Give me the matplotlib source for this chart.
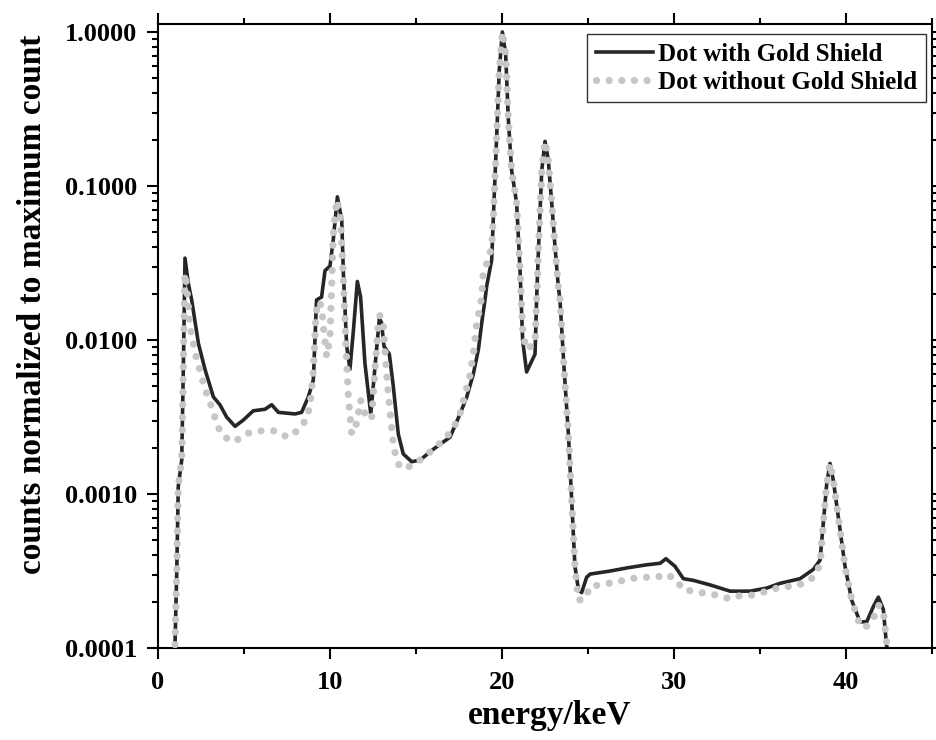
import matplotlib

matplotlib.use("Agg")
import matplotlib.pyplot as plt
from matplotlib.ticker import FixedLocator, LogLocator, MultipleLocator, FormatStrFormatter

# ---------------------------------------------------------------- data
# spectrum with the gold shield (solid line)
energy_gold = [
    0.99, 1.09, 1.18, 1.38, 1.47, 1.53, 1.57, 1.76, 1.96, 2.35, 2.73, 3.22, 3.60,
    3.99, 4.48, 4.96, 5.54, 6.22, 6.61, 7.00, 7.97, 8.35, 8.74, 9.03, 9.22, 9.51,
    9.71, 10.00, 10.19, 10.43, 10.68, 10.78, 10.97, 11.16, 11.36, 11.59, 11.78,
    12.03, 12.37, 12.62, 12.87, 13.00, 13.14, 13.45, 13.68, 13.97, 14.26, 14.75,
    15.23, 16.00, 16.98, 17.56, 17.95, 18.33, 18.63, 18.82, 19.01, 19.11, 19.40,
    19.49, 19.69, 19.84, 20.02, 20.21, 20.37, 20.56, 20.85, 21.05, 21.20, 21.43,
    21.92, 22.01, 22.11, 22.31, 22.50, 22.69, 22.89, 23.08, 23.27, 23.37, 23.60,
    23.86, 24.05, 24.24, 24.44, 24.63, 24.92, 25.12, 26.28, 27.25, 28.41, 29.19,
    29.53, 30.06, 30.54, 31.12, 32.09, 33.26, 34.42, 35.39, 36.16, 37.33, 38.10,
    38.49, 38.68, 38.88, 39.07, 39.26, 39.55, 39.94, 40.33, 40.81, 41.20, 41.59,
    41.88, 42.17, 42.36, 42.42,
]
counts_gold = [
    1.05e-4, 3.1e-4, 1.12e-3, 1.66e-3, 6.2e-3, 0.0166, 0.034, 0.0234, 0.0182,
    0.0095, 0.00646, 0.00427, 0.0038, 0.00316, 0.00275, 0.00302, 0.00347, 0.00355,
    0.0038, 0.00339, 0.00331, 0.00339, 0.00427, 0.0055, 0.0182, 0.019, 0.0282,
    0.0302, 0.0447, 0.085, 0.0603, 0.0269, 0.0091, 0.00646, 0.0115, 0.024, 0.019,
    0.00708, 0.00331, 0.00676, 0.0138, 0.0129, 0.0091, 0.0081, 0.0050, 0.00245,
    0.00182, 0.00162, 0.00166, 0.00195, 0.00234, 0.00331, 0.00427, 0.0060, 0.0087,
    0.0129, 0.0182, 0.0224, 0.0331, 0.0603, 0.209, 0.562, 1.0, 0.724, 0.269, 0.126,
    0.0776, 0.0282, 0.0100, 0.0062, 0.0081, 0.0182, 0.0363, 0.126, 0.195, 0.148,
    0.0776, 0.0407, 0.0224, 0.0182, 0.00676, 0.00245, 9.1e-4, 3.4e-4, 2.4e-4,
    2.29e-4, 2.88e-4, 3.02e-4, 3.16e-4, 3.31e-4, 3.47e-4, 3.55e-4, 3.8e-4, 3.39e-4,
    2.82e-4, 2.75e-4, 2.57e-4, 2.34e-4, 2.34e-4, 2.45e-4, 2.63e-4, 2.82e-4, 3.24e-4,
    3.72e-4, 6.5e-4, 1.17e-3, 1.58e-3, 1.23e-3, 7.1e-4, 3.4e-4, 2.04e-4, 1.48e-4,
    1.48e-4, 1.86e-4, 2.14e-4, 1.78e-4, 1.02e-4, 1.0e-4,
]

# spectrum without the gold shield (grey dots)
energy_bare = [
    0.99, 1.09, 1.18, 1.38, 1.47, 1.53, 1.57, 1.67, 1.86, 2.15, 2.35, 2.73, 3.02,
    3.47, 3.84, 4.48, 5.06, 5.74, 6.38, 6.84, 7.52, 8.10, 8.60, 8.84, 9.03, 9.19,
    9.32, 9.51, 9.65, 9.81, 10.00, 10.10, 10.19, 10.39, 10.60, 10.78, 10.93, 11.07,
    11.26, 11.55, 11.78, 11.94, 12.13, 12.42, 12.62, 12.81, 12.91, 13.10, 13.26,
    13.39, 13.53, 13.68, 13.84, 14.07, 14.65, 15.23, 16.00, 16.78, 17.27, 17.56,
    17.95, 18.14, 18.37, 18.53, 18.68, 18.82, 18.91, 19.20, 19.40, 19.49, 19.69,
    19.84, 20.02, 20.21, 20.37, 20.56, 20.85, 21.05, 21.20, 21.40, 21.92, 22.01,
    22.11, 22.31, 22.50, 22.69, 22.89, 23.08, 23.27, 23.37, 23.60, 23.86, 24.05,
    24.24, 24.44, 24.83, 25.12, 25.70, 26.18, 26.76, 27.34, 28.41, 28.99, 29.57,
    30.16, 30.50, 31.03, 31.51, 32.19, 32.58, 33.22, 33.84, 34.42, 35.00, 35.54,
    35.97, 36.55, 36.94, 37.52, 38.10, 38.49, 38.68, 38.88, 39.07, 39.26, 39.55,
    39.94, 40.33, 40.81, 41.10, 41.59, 41.88, 42.17, 42.33, 42.42,
]
counts_bare = [
    1.05e-4, 3.1e-4, 1.12e-3, 1.66e-3, 6.2e-3, 0.0166, 0.027, 0.0224, 0.0123,
    0.0083, 0.0069, 0.0048, 0.00398, 0.00275, 0.00234, 0.00219, 0.00245, 0.00257,
    0.00257, 0.00257, 0.00234, 0.00257, 0.00302, 0.00372, 0.0063, 0.0148, 0.0178,
    0.0166, 0.0112, 0.0078, 0.0105, 0.0224, 0.049, 0.081, 0.066, 0.0245, 0.0091,
    0.00427, 0.00245, 0.00288, 0.00407, 0.00355, 0.0031, 0.0031, 0.00646, 0.0129,
    0.0145, 0.0123, 0.00676, 0.00447, 0.0031, 0.00209, 0.00174, 0.00148, 0.00151,
    0.00166, 0.00195, 0.00234, 0.00282, 0.00331, 0.0049, 0.0059, 0.0087, 0.0129,
    0.0155, 0.019, 0.0275, 0.0331, 0.0407, 0.0603, 0.209, 0.562, 1.0, 0.724, 0.269,
    0.126, 0.0776, 0.0282, 0.0115, 0.0087, 0.0095, 0.0182, 0.0363, 0.126, 0.195,
    0.148, 0.0776, 0.0407, 0.0224, 0.0182, 0.00676, 0.00245, 9.1e-4, 3.4e-4,
    2.04e-4, 2.09e-4, 2.51e-4, 2.57e-4, 2.63e-4, 2.69e-4, 2.82e-4, 2.88e-4, 2.88e-4,
    3.02e-4, 2.75e-4, 2.4e-4, 2.34e-4, 2.29e-4, 2.24e-4, 2.19e-4, 2.09e-4, 2.19e-4,
    2.19e-4, 2.29e-4, 2.34e-4, 2.45e-4, 2.51e-4, 2.51e-4, 2.63e-4, 2.88e-4, 3.47e-4,
    6.5e-4, 1.17e-3, 1.58e-3, 1.23e-3, 7.1e-4, 3.4e-4, 2.04e-4, 1.41e-4, 1.35e-4,
    1.55e-4, 1.9e-4, 1.74e-4, 1.15e-4, 1.0e-4,
]

y_ticks = [1e-4, 1e-3, 1e-2, 1e-1, 1.0]

# ---------------------------------------------------------------- style
plt.rcParams["font.family"] = ["Liberation Serif", "DejaVu Serif"]
plt.rcParams["font.weight"] = "bold"
plt.rcParams["axes.labelweight"] = "bold"

fig = plt.figure(figsize=(9.37, 7.40), dpi=100)
ax = fig.add_axes([0.1686, 0.1243, 0.8261, 0.8433])

ax.plot(energy_gold, counts_gold, color="#262626", lw=2.6,
        solid_joinstyle="round", label="Dot with Gold Shield", zorder=2)
ax.plot(energy_bare, counts_bare, color="#c6c6c6", lw=5.2,
        linestyle=(0, (0.001, 1.75)), dash_capstyle="round",
        label="Dot without Gold Shield", zorder=3)

ax.set_yscale("log")
ax.set_xlim(0, 45)
ax.set_ylim(1e-4, 1.127)
ax.yaxis.set_major_locator(FixedLocator(y_ticks))
ax.yaxis.set_major_formatter(FormatStrFormatter("%.4f"))
ax.yaxis.set_minor_locator(LogLocator(base=10, subs=range(2, 10)))
ax.yaxis.set_minor_formatter(plt.NullFormatter())
ax.xaxis.set_major_locator(MultipleLocator(10))
ax.xaxis.set_minor_locator(MultipleLocator(5))

for sp in ax.spines.values():
    sp.set_linewidth(1.5)
ax.tick_params(which="both", direction="out", width=1.5, labelsize=19,
               top=True, right=True)
ax.tick_params(axis="y", pad=7)
ax.tick_params(axis="x", pad=8.5)
ax.tick_params(which="major", length=8)
ax.tick_params(which="minor", length=4.5)

ax.set_xlabel("energy/keV", fontsize=24)
ax.set_ylabel("counts normalized to maximum count", fontsize=24)
ax.xaxis.set_label_coords(0.506, -0.083)
ax.yaxis.set_label_coords(-0.142, 0.55)

leg = ax.legend(loc="upper right", bbox_to_anchor=(0.9922, 0.984),
                borderaxespad=0, fontsize=18, handlelength=2.3,
                handletextpad=0.2, labelspacing=0.2, borderpad=0.35,
                fancybox=False, framealpha=1)
leg.get_frame().set_edgecolor("#333333")
leg.get_frame().set_linewidth(1.0)

fig.savefig("out.png", dpi=100)
